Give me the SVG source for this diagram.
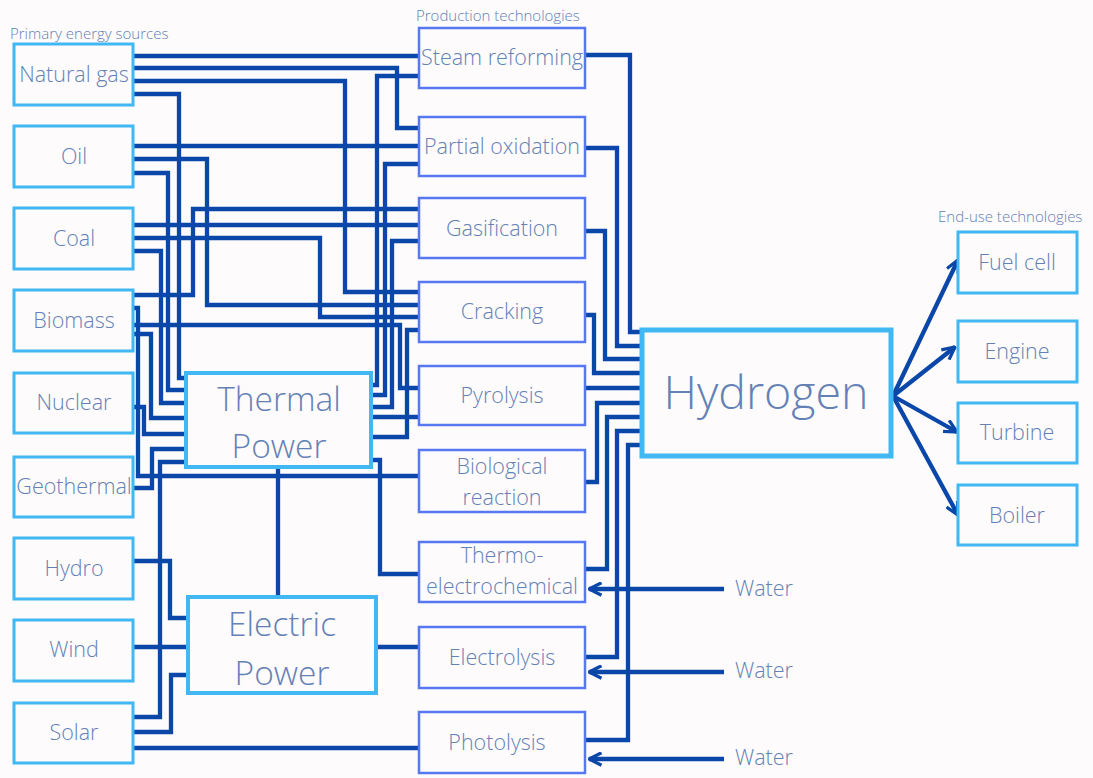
<svg xmlns="http://www.w3.org/2000/svg" width="1093" height="778" viewBox="0 0 1093 778">
<style>
.src{fill:#fdfbfb;stroke:#3fb8f4;stroke-width:3}
.prod{fill:#fdfbfb;stroke:#5878f2;stroke-width:2.5}
.pow{fill:#fdfbfb;stroke:#3fb8f4;stroke-width:4}
.h2{fill:#fdfbfb;stroke:#3fb8f4;stroke-width:5}
.end{fill:#fdfbfb;stroke:#3fb8f4;stroke-width:3}
text{font-family:"Open Sans","Noto Sans",sans-serif;fill:#6481b6;text-anchor:middle;font-weight:300}
.t{font-size:21.5px}
.hd{font-size:15px;text-anchor:start}
.big{font-size:33.5px}
.hy{font-size:46.5px}
.c path,.c line{fill:none;stroke:#0a47a8;stroke-width:4.3;stroke-linejoin:miter}
</style>
<defs>
<marker id="ah" viewBox="0 0 12 12" refX="11" refY="6" markerWidth="15" markerHeight="15" markerUnits="userSpaceOnUse" orient="auto">
<path d="M1,1 L11,6 L1,11" fill="none" stroke="#0a47a8" stroke-width="2.6"/>
</marker>
</defs>
<rect width="1093" height="778" fill="#fdfbfb"/>

<text class="hd" x="10" y="39">Primary energy sources</text>
<text class="hd" x="416" y="21">Production technologies</text>
<text class="hd" x="938" y="222">End-use technologies</text>

<g class="c" id="connectors">
<!-- Natural gas -->
<path d="M133,56 H419"/>
<path d="M133,68 H397 V128 H419"/>
<path d="M133,81 H345 V292 H419"/>
<path d="M133,94 H179 V378 H186"/>
<!-- Oil -->
<path d="M133,146 H419"/>
<path d="M133,159 H207 V305 H419"/>
<path d="M133,173 H168 V390 H186"/>
<!-- Coal -->
<path d="M133,225 H419"/>
<path d="M133,238 H320 V317 H419"/>
<path d="M133,251 H161 V403 H186"/>
<!-- Biomass -->
<path d="M133,295 H193 V209 H419"/>
<path d="M133,308 H138 V476 H419"/>
<path d="M133,325 H400 V388 H419"/>
<path d="M133,334 H151 V418 H186"/>
<!-- Nuclear -->
<path d="M133,407 H144 V434 H186"/>
<!-- Geothermal -->
<path d="M133,488 H152 V449 H186"/>
<!-- Hydro / Wind / Solar -->
<path d="M133,561 H170 V618 H188"/>
<path d="M133,647 H188"/>
<path d="M133,717 H160 V462 H186"/>
<path d="M133,732 H171 V675 H188"/>
<path d="M133,748 H419"/>
<!-- Thermal power outputs -->
<path d="M371,385 H377 V76 H419"/>
<path d="M371,395 H385 V164 H419"/>
<path d="M371,407 H392 V241 H419"/>
<path d="M371,417 H419"/>
<path d="M371,437 H407 V330 H419"/>
<path d="M371,460 H380 V574 H419"/>
<path d="M278,467 V597"/>
<!-- Electric power output -->
<path d="M376,647 H419"/>
<!-- Production to hydrogen -->
<path d="M585,55 H630 V332 H641"/>
<path d="M585,148 H617 V346 H641"/>
<path d="M585,231 H605 V359 H641"/>
<path d="M585,315 H594 V373 H641"/>
<path d="M585,388 H641"/>
<path d="M585,482 H597 V403 H641"/>
<path d="M585,569 H607 V417 H641"/>
<path d="M585,657 H617 V431 H641"/>
<path d="M585,740 H628 V445 H641"/>
<!-- Water -->
<line x1="724" y1="589" x2="589" y2="589" marker-end="url(#ah)"/>
<line x1="724" y1="672" x2="589" y2="672" marker-end="url(#ah)"/>
<line x1="724" y1="759" x2="589" y2="759" marker-end="url(#ah)"/>
<!-- Hydrogen to end uses -->
<line x1="893" y1="396" x2="958" y2="260" marker-end="url(#ah)"/>
<line x1="893" y1="396" x2="955" y2="347" marker-end="url(#ah)"/>
<line x1="893" y1="396" x2="957" y2="432" marker-end="url(#ah)"/>
<line x1="893" y1="396" x2="958" y2="515" marker-end="url(#ah)"/>
</g>

<g id="natural-gas"><rect class="src" x="14" y="44" width="119" height="61"/><text class="t" x="74" y="82">Natural gas</text></g>
<g id="oil"><rect class="src" x="14" y="126" width="119" height="61"/><text class="t" x="74" y="164">Oil</text></g>
<g id="coal"><rect class="src" x="14" y="208" width="119" height="61"/><text class="t" x="74" y="246">Coal</text></g>
<g id="biomass"><rect class="src" x="14" y="290" width="119" height="61"/><text class="t" x="74" y="328">Biomass</text></g>
<g id="nuclear"><rect class="src" x="14" y="373" width="119" height="60"/><text class="t" x="74" y="410">Nuclear</text></g>
<g id="geothermal"><rect class="src" x="14" y="457" width="119" height="60"/><text class="t" x="74" y="494">Geothermal</text></g>
<g id="hydro"><rect class="src" x="14" y="538" width="119" height="61"/><text class="t" x="74" y="576">Hydro</text></g>
<g id="wind"><rect class="src" x="14" y="620" width="119" height="61"/><text class="t" x="74" y="657">Wind</text></g>
<g id="solar"><rect class="src" x="14" y="703" width="119" height="60"/><text class="t" x="74" y="740">Solar</text></g>

<g id="thermal-power"><rect class="pow" x="186" y="373" width="185" height="94"/><text class="big" x="279" y="411">Thermal</text><text class="big" x="279" y="458">Power</text></g>
<g id="electric-power"><rect class="pow" x="188" y="597" width="188" height="96"/><text class="big" x="282" y="636">Electric</text><text class="big" x="282" y="685">Power</text></g>

<g id="steam-reforming"><rect class="prod" x="419" y="28" width="166" height="60"/><text class="t" x="502" y="65">Steam reforming</text></g>
<g id="partial-oxidation"><rect class="prod" x="419" y="117" width="166" height="59"/><text class="t" x="502" y="154">Partial oxidation</text></g>
<g id="gasification"><rect class="prod" x="419" y="198" width="166" height="60"/><text class="t" x="502" y="236">Gasification</text></g>
<g id="cracking"><rect class="prod" x="419" y="282" width="166" height="60"/><text class="t" x="502" y="319">Cracking</text></g>
<g id="pyrolysis"><rect class="prod" x="419" y="366" width="166" height="59"/><text class="t" x="502" y="403">Pyrolysis</text></g>
<g id="biological-reaction"><rect class="prod" x="419" y="450" width="166" height="62"/><text class="t" x="502" y="474">Biological</text><text class="t" x="502" y="505">reaction</text></g>
<g id="thermo-electrochemical"><rect class="prod" x="419" y="542" width="166" height="60"/><text class="t" x="502" y="563">Thermo-</text><text class="t" x="502" y="594">electrochemical</text></g>
<g id="electrolysis"><rect class="prod" x="419" y="627" width="166" height="61"/><text class="t" x="502" y="665">Electrolysis</text></g>
<g id="photolysis"><rect class="prod" x="419" y="712" width="166" height="61"/><text class="t" x="497" y="750">Photolysis</text></g>

<g id="hydrogen"><rect class="h2" x="642" y="330" width="249" height="126"/><text class="hy" x="766" y="409">Hydrogen</text></g>

<g id="fuel-cell"><rect class="end" x="958" y="232" width="119" height="61"/><text class="t" x="1017" y="270">Fuel cell</text></g>
<g id="engine"><rect class="end" x="958" y="321" width="119" height="61"/><text class="t" x="1017" y="359">Engine</text></g>
<g id="turbine"><rect class="end" x="958" y="403" width="119" height="60"/><text class="t" x="1017" y="440">Turbine</text></g>
<g id="boiler"><rect class="end" x="958" y="485" width="119" height="60"/><text class="t" x="1017" y="523">Boiler</text></g>

<g id="water-labels"><text class="t" x="764" y="596">Water</text><text class="t" x="764" y="678">Water</text><text class="t" x="764" y="765">Water</text></g>
</svg>
